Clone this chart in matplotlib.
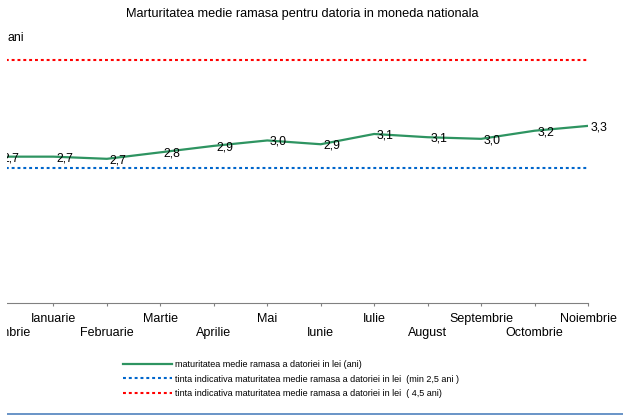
import matplotlib
matplotlib.use("Agg")
import matplotlib.pyplot as plt
from matplotlib.lines import Line2D
from matplotlib.patches import Rectangle

plt.rcParams['font.family'] = ['Liberation Sans', 'DejaVu Sans']

luni = ['Decembrie', 'Ianuarie', 'Februarie', 'Martie', 'Aprilie', 'Mai', 'Iunie',
        'Iulie', 'August', 'Septembrie', 'Octombrie', 'Noiembrie']
maturitate = [2.71, 2.71, 2.67, 2.79, 2.91, 3.01, 2.94, 3.13, 3.07, 3.04, 3.19, 3.28]
tinta_min = [2.5] * 12
tinta_max = [4.5] * 12

et_serie = 'maturitatea medie ramasa a datoriei in lei (ani)'
et_min = 'tinta indicativa maturitatea medie ramasa a datoriei in lei  (min 2,5 ani )'
et_max = 'tinta indicativa maturitatea medie ramasa a datoriei in lei  ( 4,5 ani)'

W, H = 623, 417
fig = plt.figure(figsize=(W / 100, H / 100), dpi=100)
ax = fig.add_axes([0, 1 - 303 / H, 588 / W, 270 / H])

x = list(range(len(luni)))
l1, = ax.plot(x, maturitate, color='#2E9461', lw=1.6, label=et_serie, zorder=3)
l2, = ax.plot(x, tinta_min, color='#0066CC', lw=1.5, ls=(0, (1.4, 1.4)), label=et_min)
l3, = ax.plot(x, tinta_max, color='#FF0000', lw=1.5, ls=(0, (1.4, 1.4)), label=et_max)

for xi, v in zip(x, maturitate):
    ax.annotate(f'{v:.1f}'.replace('.', ','), (xi, v), xytext=(2, -1),
                textcoords='offset points', ha='left', va='center', fontsize=8.8)

ax.set_xlim(0, 11)
ax.set_ylim(0, 5)
ax.set_xticks(x)
ax.set_xticklabels([('\n' + m) if i % 2 == 0 else m for i, m in enumerate(luni)],
                   fontsize=9)
ax.tick_params(axis='x', direction='out', length=2.5, color='#808080', pad=5)
ax.set_yticks([])
for s in ['left', 'right', 'top']:
    ax.spines[s].set_visible(False)
ax.spines['bottom'].set_color('#808080')

fig.text(302 / W, 1 - 14 / H, 'Marturitatea medie ramasa pentru datoria in moneda nationala',
         ha='center', va='center', fontsize=9.2)
fig.text(7 / W, 1 - 38 / H, 'ani', ha='left', va='center', fontsize=8.8)

fig.legend(handles=[l1, l2, l3], loc='upper left', bbox_to_anchor=(123 / W, 1 - 360 / H),
           frameon=False, fontsize=6.5, handlelength=5.4, handletextpad=0.33,
           labelspacing=0.62, borderpad=0, borderaxespad=0)

fig.add_artist(Line2D([7 / W, 1], [1 - 414 / H, 1 - 414 / H], transform=fig.transFigure,
                      color='#4F81BD', lw=1.2))
fig.patches.append(Rectangle((0, 0), 7 / W, 1, transform=fig.transFigure,
                             facecolor='white', edgecolor='none', zorder=100))

fig.savefig('out.png', dpi=100)
